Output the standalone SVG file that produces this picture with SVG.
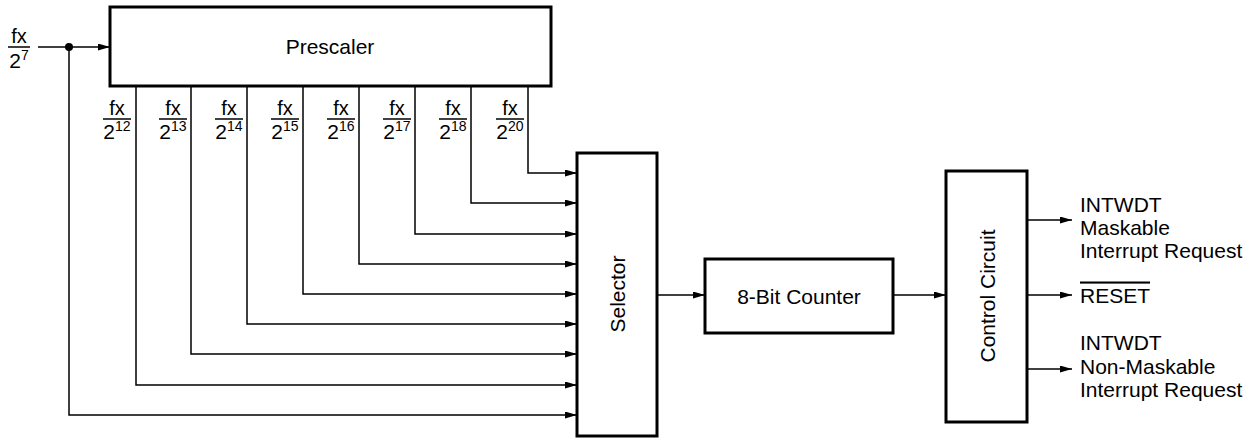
<svg xmlns="http://www.w3.org/2000/svg" width="1255" height="438" viewBox="0 0 1255 438">
<style>
.box{fill:#fff;stroke:#000;stroke-width:3}
.ln{fill:none;stroke:#000;stroke-width:1.5}
.ar{marker-end:url(#ah)}
text{font-family:"Liberation Sans",Arial,sans-serif;fill:#000}
.lbl{font-size:21px}
.fr{font-size:20px;text-anchor:middle}
.dn{font-size:21px;text-anchor:middle}
.sup{font-size:14px}
.bar{stroke:#000;stroke-width:1.5}
</style>
<defs>
<marker id="ah" markerUnits="userSpaceOnUse" markerWidth="12" markerHeight="8" refX="12" refY="3.5" orient="auto">
<path d="M0,0 L12,3.5 L0,7 z" fill="#000"/>
</marker>
</defs>
<g id="connectors">
<line class="ln ar" x1="38" y1="47" x2="110" y2="47"/>
<circle cx="69" cy="47" r="4" fill="#000"/>
<polyline class="ln ar" points="69,47 69,415 577,415"/>
<polyline class="ln ar" points="136,86 136,385 577,385"/>
<polyline class="ln ar" points="191,86 191,354 577,354"/>
<polyline class="ln ar" points="247,86 247,324 577,324"/>
<polyline class="ln ar" points="303,86 303,294 577,294"/>
<polyline class="ln ar" points="359,86 359,264 577,264"/>
<polyline class="ln ar" points="415,86 415,234 577,234"/>
<polyline class="ln ar" points="471,86 471,203 577,203"/>
<polyline class="ln ar" points="528,86 528,173 577,173"/>
<line class="ln ar" x1="657" y1="295" x2="705" y2="295"/>
<line class="ln ar" x1="893" y1="295" x2="946" y2="295"/>
<line class="ln ar" x1="1027" y1="220" x2="1072" y2="220"/>
<line class="ln ar" x1="1027" y1="295" x2="1072" y2="295"/>
<line class="ln ar" x1="1027" y1="369" x2="1072" y2="369"/>
</g>
<g id="input-label">
<text class="fr" x="19" y="43">fx</text>
<line class="bar" x1="8" y1="47" x2="30" y2="47"/>
<text class="dn" x="19" y="68">2<tspan class="sup" dy="-8">7</tspan></text>
</g>
<g id="prescaler">
<rect class="box" x="110" y="7" width="441" height="79"/>
<text class="lbl" x="330" y="54" text-anchor="middle">Prescaler</text>
</g>
<g id="freq-labels">
<text class="fr" x="117" y="115">fx</text><line class="bar" x1="103" y1="119" x2="131" y2="119"/><text class="dn" x="117" y="139">2<tspan class="sup" dy="-8">12</tspan></text>
<text class="fr" x="173" y="115">fx</text><line class="bar" x1="159" y1="119" x2="187" y2="119"/><text class="dn" x="173" y="139">2<tspan class="sup" dy="-8">13</tspan></text>
<text class="fr" x="229" y="115">fx</text><line class="bar" x1="215" y1="119" x2="243" y2="119"/><text class="dn" x="229" y="139">2<tspan class="sup" dy="-8">14</tspan></text>
<text class="fr" x="285" y="115">fx</text><line class="bar" x1="271" y1="119" x2="299" y2="119"/><text class="dn" x="285" y="139">2<tspan class="sup" dy="-8">15</tspan></text>
<text class="fr" x="341" y="115">fx</text><line class="bar" x1="327" y1="119" x2="355" y2="119"/><text class="dn" x="341" y="139">2<tspan class="sup" dy="-8">16</tspan></text>
<text class="fr" x="397" y="115">fx</text><line class="bar" x1="383" y1="119" x2="411" y2="119"/><text class="dn" x="397" y="139">2<tspan class="sup" dy="-8">17</tspan></text>
<text class="fr" x="453" y="115">fx</text><line class="bar" x1="439" y1="119" x2="467" y2="119"/><text class="dn" x="453" y="139">2<tspan class="sup" dy="-8">18</tspan></text>
<text class="fr" x="510" y="115">fx</text><line class="bar" x1="496" y1="119" x2="524" y2="119"/><text class="dn" x="510" y="139">2<tspan class="sup" dy="-8">20</tspan></text>
</g>
<g id="selector">
<rect class="box" x="577" y="153" width="80" height="283"/>
<text class="lbl" transform="translate(617,294) rotate(-90)" x="0" y="7.5" text-anchor="middle">Selector</text>
</g>
<g id="counter">
<rect class="box" x="705" y="259" width="188" height="74"/>
<text class="lbl" x="799" y="303.5" text-anchor="middle">8-Bit Counter</text>
</g>
<g id="control">
<rect class="box" x="946" y="171" width="81" height="251"/>
<text class="lbl" transform="translate(987,296) rotate(-90)" x="0" y="7.5" text-anchor="middle">Control Circuit</text>
</g>
<g id="outputs">
<text class="lbl" x="1080" y="212">INTWDT</text>
<text class="lbl" x="1080" y="235">Maskable</text>
<text class="lbl" x="1080" y="258">Interrupt Request</text>
<text class="lbl" x="1080" y="302.5" text-decoration="overline">RESET</text>
<text class="lbl" x="1080" y="350">INTWDT</text>
<text class="lbl" x="1080" y="374">Non-Maskable</text>
<text class="lbl" x="1080" y="397">Interrupt Request</text>
</g>
</svg>
